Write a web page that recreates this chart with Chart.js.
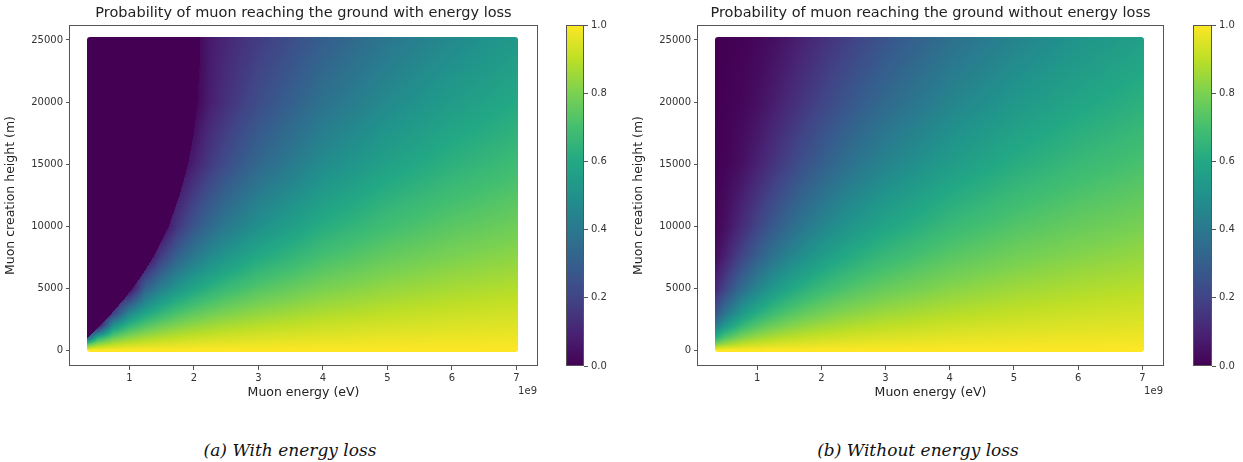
<!DOCTYPE html>
<html lang="en">
<head>
<meta charset="UTF-8">
<title>Muon survival probability</title>
<script src="https://cdn.jsdelivr.net/npm/chart.js"></script>
<style>
  body { margin: 0; width: 1243px; height: 462px; background: #fff; position: relative; overflow: hidden; }
  canvas { position: absolute; top: 0; }
  .caption { position: absolute; top: 440px; font: italic 17px "DejaVu Serif"; line-height: 20px; color: #111;
             transform: translateX(-50%); white-space: nowrap; }
</style>
</head>
<body>
<canvas id="lossChart" width="607" height="420" style="left:0"></canvas>
<canvas id="lossBar" width="60" height="420" style="left:566px"></canvas>
<canvas id="noLossChart" width="605" height="420" style="left:628px"></canvas>
<canvas id="noLossBar" width="60" height="420" style="left:1193px"></canvas>
<div class="caption" style="left:290px">(a) With energy loss</div>
<div class="caption" style="left:918px">(b) Without energy loss</div>

<script>
// muon energy in units of 1e9 eV, creation height in m
const energies = [0.35, 0.5, 0.75, 1, 1.25, 1.5, 1.75, 2, 2.25, 2.5, 3, 4, 5, 6, 7];
const heights = [0, 500, 1000, 2000, 3000, 5000, 7500, 10000, 15000, 20000, 25000];

// probability, one row per height
const probWithLoss = [
  [1, 1, 1, 1, 1, 1, 1, 1, 1, 1, 1, 1, 1, 1, 1],
  [0.725, 0.824, 0.888, 0.917, 0.934, 0.945, 0.953, 0.959, 0.964, 0.968, 0.973, 0.980, 0.984, 0.987, 0.988],
  [0.30, 0.624, 0.768, 0.831, 0.866, 0.889, 0.906, 0.918, 0.927, 0.935, 0.946, 0.959, 0.968, 0.973, 0.977],
  [0, 0, 0.504, 0.649, 0.726, 0.774, 0.809, 0.834, 0.853, 0.868, 0.891, 0.918, 0.935, 0.946, 0.954],
  [0, 0, 0.17, 0.458, 0.583, 0.659, 0.711, 0.749, 0.778, 0.801, 0.835, 0.877, 0.902, 0.919, 0.931],
  [0, 0, 0, 0, 0.31, 0.434, 0.522, 0.585, 0.633, 0.671, 0.728, 0.797, 0.838, 0.865, 0.885],
  [0, 0, 0, 0, 0, 0.189, 0.318, 0.406, 0.472, 0.525, 0.604, 0.702, 0.762, 0.801, 0.829],
  [0, 0, 0, 0, 0, 0, 0.159, 0.263, 0.341, 0.403, 0.497, 0.617, 0.691, 0.741, 0.777],
  [0, 0, 0, 0, 0, 0, 0, 0.087, 0.169, 0.233, 0.336, 0.478, 0.570, 0.635, 0.683],
  [0, 0, 0, 0, 0, 0, 0, 0, 0.082, 0.138, 0.232, 0.374, 0.473, 0.546, 0.602],
  [0, 0, 0, 0, 0, 0, 0, 0, 0.07, 0.11, 0.175, 0.296, 0.396, 0.472, 0.532]
];

// edge of the dark region: lowest energy that still reaches the ground
const cutoffHeights = [0, 500, 1000, 1250, 1500, 2000, 2500, 3000, 4000, 5000, 6000,
                       7500, 9000, 10000, 12500, 15000, 17500, 20000, 22500, 25000];
const lossCutoff = [0.11, 0.23, 0.35, 0.40, 0.45, 0.55, 0.645, 0.73, 0.90, 1.05, 1.19,
                    1.37, 1.52, 1.61, 1.78, 1.91, 2.0, 2.055, 2.085, 2.10];

const probNoLoss = [
  [1, 1, 1, 1, 1, 1, 1, 1, 1, 1, 1, 1, 1, 1, 1],
  [0.795, 0.852, 0.899, 0.923, 0.938, 0.948, 0.955, 0.961, 0.965, 0.968, 0.974, 0.980, 0.984, 0.987, 0.989],
  [0.632, 0.726, 0.807, 0.852, 0.880, 0.899, 0.912, 0.923, 0.931, 0.938, 0.948, 0.961, 0.968, 0.974, 0.977],
  [0.400, 0.527, 0.652, 0.726, 0.774, 0.807, 0.833, 0.852, 0.867, 0.880, 0.899, 0.923, 0.938, 0.948, 0.955],
  [0.253, 0.382, 0.526, 0.618, 0.681, 0.726, 0.760, 0.786, 0.808, 0.825, 0.852, 0.887, 0.908, 0.923, 0.934],
  [0.101, 0.201, 0.343, 0.448, 0.527, 0.586, 0.632, 0.670, 0.700, 0.726, 0.765, 0.818, 0.852, 0.875, 0.892],
  [0.032, 0.090, 0.201, 0.300, 0.382, 0.448, 0.503, 0.548, 0.586, 0.618, 0.670, 0.740, 0.786, 0.818, 0.842],
  [0.010, 0.040, 0.118, 0.201, 0.277, 0.343, 0.400, 0.448, 0.490, 0.526, 0.586, 0.670, 0.726, 0.765, 0.795],
  [0.001, 0.008, 0.040, 0.090, 0.146, 0.201, 0.253, 0.300, 0.343, 0.382, 0.448, 0.548, 0.618, 0.670, 0.709],
  [0.000, 0.002, 0.014, 0.040, 0.077, 0.118, 0.160, 0.201, 0.240, 0.277, 0.343, 0.448, 0.526, 0.586, 0.632],
  [0.000, 0.000, 0.005, 0.018, 0.040, 0.069, 0.101, 0.135, 0.168, 0.201, 0.263, 0.367, 0.448, 0.513, 0.564]
];

const xTicks = [1, 2, 3, 4, 5, 6, 7];
const yTicks = [0, 5000, 10000, 15000, 20000, 25000];
const barTicks = [0, 0.2, 0.4, 0.6, 0.8, 1.0];

const viridisStops = ['#440154', '#482475', '#414487', '#355f8d', '#2a788e', '#21918c',
                      '#22a884', '#44bf70', '#7ad151', '#bddf26', '#fde725']
  .map(h => [1, 3, 5].map(k => parseInt(h.substr(k, 2), 16)));

function viridis(t) {
  t = Math.min(1, Math.max(0, t)) * (viridisStops.length - 1);
  const i = Math.min(viridisStops.length - 2, Math.floor(t));
  const f = t - i;
  return viridisStops[i].map((c, k) => c + (viridisStops[i + 1][k] - c) * f);
}

function locate(arr, v) {
  let i = 0;
  while (i < arr.length - 2 && v > arr[i + 1]) i++;
  const t = (v - arr[i]) / (arr[i + 1] - arr[i]);
  return [i, Math.min(1, Math.max(0, t))];
}

function probAt(grid, e, h) {
  const [i, tx] = locate(energies, e);
  const [j, ty] = locate(heights, h);
  const a = grid[j][i] * (1 - tx) + grid[j][i + 1] * tx;
  const b = grid[j + 1][i] * (1 - tx) + grid[j + 1][i + 1] * tx;
  return a * (1 - ty) + b * ty;
}

function cutoffAt(cut, h) {
  const [j, t] = locate(cutoffHeights, h);
  return cut[j] * (1 - t) + cut[j + 1] * t;
}

const clamp = (v, lo, hi) => Math.min(hi, Math.max(lo, v));

const FONT = 'DejaVu Sans';
const INK = '#555';

const heatmap = {
  id: 'heatmap',
  beforeDatasetsDraw(chart, args, opts) {
    const { ctx, scales: { x, y } } = chart;
    const eMin = energies[0], eMax = energies[energies.length - 1];
    const hMin = heights[0], hMax = heights[heights.length - 1];
    const left = Math.round(x.getPixelForValue(eMin));
    const right = Math.round(x.getPixelForValue(eMax)) + 2;
    const top = Math.round(y.getPixelForValue(hMax)) - 3;
    const bottom = Math.round(y.getPixelForValue(hMin)) + 2;
    const w = right - left, h = bottom - top;
    const off = document.createElement('canvas');
    off.width = w; off.height = h;
    const octx = off.getContext('2d');
    const img = octx.createImageData(w, h);
    for (let r = 0; r < h; r++) {
      const hv = clamp(y.getValueForPixel(top + r + 0.5), hMin, hMax);
      const cut = opts.cutoff ? cutoffAt(opts.cutoff, hv) : -Infinity;
      for (let c = 0; c < w; c++) {
        const ev = clamp(x.getValueForPixel(left + c + 0.5), eMin, eMax);
        const p = ev < cut ? 0 : probAt(opts.grid, ev, hv);
        const col = viridis(p);
        const k = (r * w + c) * 4;
        img.data[k] = col[0]; img.data[k + 1] = col[1]; img.data[k + 2] = col[2]; img.data[k + 3] = 255;
      }
    }
    octx.putImageData(img, 0, 0);
    ctx.save();
    ctx.beginPath();
    ctx.roundRect(left, top, w, h, 3);
    ctx.clip();
    ctx.drawImage(off, left, top);
    ctx.restore();
  },
  afterDraw(chart) {
    const { ctx, chartArea: a } = chart;
    ctx.save();
    ctx.strokeStyle = INK;
    ctx.lineWidth = 1;
    ctx.strokeRect(a.left - 0.5, a.top + 0.5, a.right - a.left + 1, a.bottom - a.top - 1);
    ctx.fillStyle = '#333';
    ctx.font = '10px "' + FONT + '"';
    ctx.textAlign = 'right';
    ctx.textBaseline = 'middle';
    ctx.fillText('1e9', a.right, 391);
    ctx.restore();
  }
};

function heatChart(id, title, grid, cutoff) {
  return new Chart(document.getElementById(id), {
    type: 'scatter',
    data: { datasets: [] },
    plugins: [heatmap],
    options: {
      responsive: false,
      animation: false,
      layout: { padding: { right: 70 } },
      plugins: {
        legend: { display: false },
        tooltip: { enabled: false },
        title: {
          display: true, text: title, color: '#222', fullSize: false,
          font: { family: FONT, size: 14.5, weight: 'normal', lineHeight: 1.2 },
          padding: { top: 4.6, bottom: 3 }
        },
        heatmap: { grid: grid, cutoff: cutoff }
      },
      scales: {
        x: {
          type: 'linear', min: 0.08, max: 7.32,
          afterBuildTicks: s => { s.ticks = xTicks.map(v => ({ value: v })); },
          afterFit: s => { s.height = 54; },
          ticks: { color: '#333', font: { family: FONT, size: 10 }, padding: 2, maxRotation: 0,
                   callback: v => String(v) },
          grid: { drawOnChartArea: false, tickLength: 4, color: INK },
          border: { display: false },
          title: { display: true, text: 'Muon energy (eV)', color: '#222',
                   font: { family: FONT, size: 12.5 }, padding: { top: 0, bottom: 19.5 } }
        },
        y: {
          type: 'linear', min: -1265, max: 26208,
          afterBuildTicks: s => { s.ticks = yTicks.map(v => ({ value: v })); },
          afterFit: s => { s.width = 70; },
          ticks: { color: '#333', font: { family: FONT, size: 10 }, padding: 3,
                   callback: v => String(v) },
          grid: { drawOnChartArea: false, tickLength: 4, color: INK },
          border: { display: false },
          title: { display: true, text: 'Muon creation height (m)', color: '#222',
                   font: { family: FONT, size: 12.5 }, padding: { top: 3 } }
        }
      }
    }
  });
}

const colorbar = {
  id: 'colorbar',
  beforeDatasetsDraw(chart) {
    const { ctx, chartArea: a, scales: { y } } = chart;
    ctx.save();
    for (let py = Math.floor(a.top); py < a.bottom; py++) {
      const c = viridis(y.getValueForPixel(py + 0.5));
      ctx.fillStyle = 'rgb(' + c.map(Math.round).join(',') + ')';
      ctx.fillRect(a.left, py, a.right - a.left, 1);
    }
    ctx.strokeStyle = INK;
    ctx.lineWidth = 1;
    ctx.strokeRect(a.left + 0.5, a.top + 0.5, a.right - a.left - 1, a.bottom - a.top - 1);
    ctx.restore();
  }
};

function barChart(id, barWidth) {
  return new Chart(document.getElementById(id), {
    type: 'scatter',
    data: { datasets: [] },
    plugins: [colorbar],
    options: {
      responsive: false,
      animation: false,
      layout: { padding: { top: 25, bottom: 54 } },
      plugins: { legend: { display: false }, tooltip: { enabled: false } },
      scales: {
        x: { display: false, min: 0, max: 1 },
        y: {
          position: 'right', min: 0, max: 1,
          afterBuildTicks: s => { s.ticks = barTicks.map(v => ({ value: v })); },
          afterFit: s => { s.width = 60 - barWidth; },
          ticks: { color: '#333', font: { family: FONT, size: 10 }, padding: 3,
                   callback: v => v.toFixed(1) },
          grid: { drawOnChartArea: false, tickLength: 4, color: INK },
          border: { display: false }
        }
      }
    }
  });
}

heatChart('lossChart', 'Probability of muon reaching the ground with energy loss', probWithLoss, lossCutoff);
heatChart('noLossChart', 'Probability of muon reaching the ground without energy loss', probNoLoss, null);
barChart('lossBar', 18);
barChart('noLossBar', 19);
</script>
</body>
</html>
